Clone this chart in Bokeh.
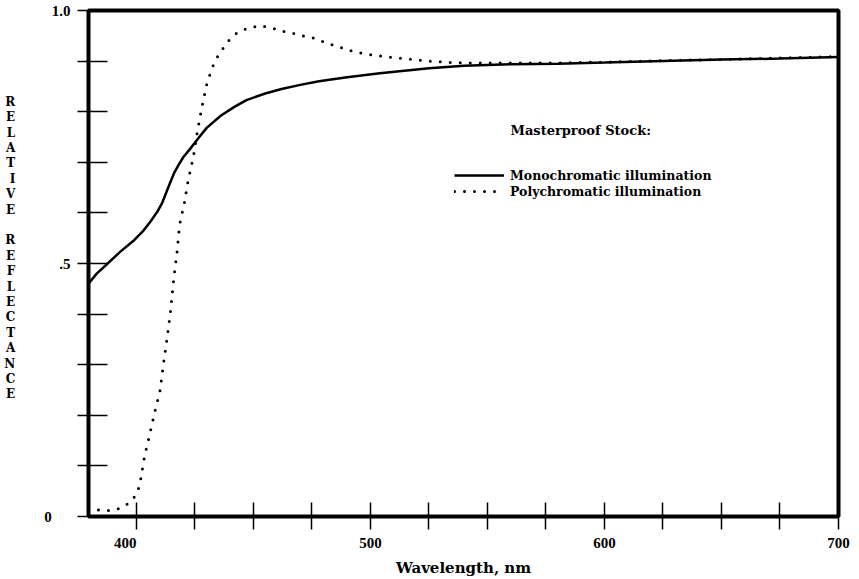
from bokeh.plotting import figure
from bokeh.models import FixedTicker, Label, Legend, LegendItem, Range1d
from bokeh.embed import file_html
from bokeh.resources import INLINE

# ---- data ----
wl_mono = [379.5, 383, 387, 393, 399, 403, 406, 409, 411, 414, 416, 418, 420, 423,
           426, 430, 436, 442, 447, 455, 462, 470, 478, 490, 504, 525, 540, 560,
           580, 600, 625, 650, 675, 700]
refl_mono = [0.46, 0.48, 0.497, 0.523, 0.546, 0.565, 0.583, 0.603, 0.62, 0.655, 0.678,
             0.695, 0.71, 0.727, 0.745, 0.768, 0.792, 0.81, 0.823, 0.836, 0.845, 0.853,
             0.86, 0.868, 0.876, 0.886, 0.891, 0.894, 0.895, 0.897, 0.9, 0.903, 0.905, 0.908]

wl_poly = [379.5, 385, 389, 393, 397, 399.6, 401, 402, 403.4, 405.5, 407.7, 410, 411.5,
           413, 414.5, 416, 417.4, 418.4, 420.5, 422, 424.4, 426, 428, 430.3, 433.5,
           436.2, 439.3, 443, 447, 452.6, 457.7, 462.4, 467, 472, 477, 481, 486, 491,
           496, 501, 506, 510, 515, 520, 525, 535, 550, 575, 600, 625, 650, 675, 700]
refl_poly = [0.015, 0.012, 0.012, 0.016, 0.027, 0.041, 0.057, 0.078, 0.118, 0.159, 0.204,
             0.247, 0.3, 0.35, 0.403, 0.473, 0.525, 0.576, 0.62, 0.662, 0.713, 0.76, 0.81,
             0.86, 0.9, 0.92, 0.94, 0.956, 0.964, 0.97, 0.966, 0.959, 0.955, 0.949, 0.944,
             0.936, 0.929, 0.921, 0.916, 0.912, 0.909, 0.907, 0.905, 0.902, 0.9, 0.897,
             0.896, 0.896, 0.898, 0.901, 0.903, 0.906, 0.909]

x_ticks = [400, 425, 450, 475, 500, 525, 550, 575, 600, 625, 650, 675, 700]
x_tick_labels = {400: "400", 500: "500", 600: "600", 700: "700"}
y_ticks = [0, 0.1, 0.2, 0.3, 0.4, 0.5, 0.6, 0.7, 0.8, 0.9, 1.0]
y_tick_labels = {0: "0", 0.5: ".5", 1.0: "1.0"}

series_names = ["Monochromatic illumination", "Polychromatic illumination"]
legend_title = "Masterproof Stock:"
x_title = "Wavelength, nm"
y_title_words = ["RELATIVE", "REFLECTANCE"]

FONT = "DejaVu Serif"
TICKFONT = "Liberation Serif"
NB = "\u00a0"

p = figure(width=859, height=579, output_backend="svg", toolbar_location=None,
           x_range=Range1d(379.5, 700), y_range=Range1d(0, 1.0),
           min_border_left=88, min_border_right=21, min_border_top=10,
           min_border_bottom=60)
p.background_fill_color = "white"
p.border_fill_color = "white"
p.grid.visible = False
p.outline_line_color = "black"
p.outline_line_width = 4

# x axis
xa = p.xaxis[0]
xa.ticker = FixedTicker(ticks=x_ticks)
ovx = {t: "" for t in x_ticks}
for k, v in x_tick_labels.items():
    ovx[k] = v
ovx[400] = x_tick_labels[400] + NB * 6
xa.major_label_overrides = ovx
xa.axis_line_color = None
xa.major_tick_in = 14
xa.major_tick_out = 13
xa.major_tick_line_width = 1.5
xa.major_tick_line_color = "black"
xa.minor_tick_line_color = None
xa.major_label_standoff = 5
xa.major_label_text_font = TICKFONT
xa.major_label_text_font_style = "bold"
xa.major_label_text_font_size = "15px"
xa.major_label_text_color = "black"
xa.axis_label = x_title
xa.axis_label_standoff = 5
xa.axis_label_text_font = FONT
xa.axis_label_text_font_style = "bold"
xa.axis_label_text_font_size = "15px"
xa.axis_label_text_color = "black"

# y axis
ya = p.yaxis[0]
ya.ticker = FixedTicker(ticks=y_ticks)
ovy = {t: "" for t in y_ticks}
for k, v in y_tick_labels.items():
    ovy[k] = v
ovy[0] = y_tick_labels[0] + NB * 5
ya.major_label_overrides = ovy
ya.axis_line_color = None
ya.major_tick_in = 19
ya.major_tick_out = 11
ya.major_tick_line_width = 1.5
ya.major_tick_line_color = "black"
ya.minor_tick_line_color = None
ya.major_label_standoff = 7
ya.major_label_text_font = TICKFONT
ya.major_label_text_font_style = "bold"
ya.major_label_text_font_size = "15px"
ya.major_label_text_color = "black"
ya.axis_label = "\n".join(list(y_title_words[0]) + [NB] + list(y_title_words[1]) + [NB, NB])
ya.axis_label_orientation = "horizontal"
ya.axis_label_standoff = 26
ya.axis_label_text_font = FONT
ya.axis_label_text_font_style = "bold"
ya.axis_label_text_font_size = "12px"
ya.axis_label_text_line_height = 1.1
ya.axis_label_text_color = "black"

# curves
r1 = p.line(wl_mono, refl_mono, line_width=2.5, line_color="black")
r2 = p.line(wl_poly, refl_poly, line_width=3, line_color="black",
            line_dash="0 10", line_cap="round")

legend = Legend(items=[LegendItem(label=series_names[0], renderers=[r1]),
                       LegendItem(label=series_names[1], renderers=[r2])],
                location=(366, 317), glyph_width=50, glyph_height=16,
                label_height=16, spacing=0, padding=0, margin=0,
                border_line_color=None, background_fill_alpha=0,
                label_standoff=6, label_text_font=FONT,
                label_text_font_style="bold", label_text_font_size="12.5px",
                label_text_color="black")
p.add_layout(legend)

p.add_layout(Label(x=422, y=386, x_units="screen", y_units="screen",
                   text=legend_title, text_font=FONT, text_font_style="bold",
                   text_font_size="13px", text_baseline="middle", text_align="left",
                   text_color="black"))

open("out.html", "w").write(file_html(p, INLINE))
